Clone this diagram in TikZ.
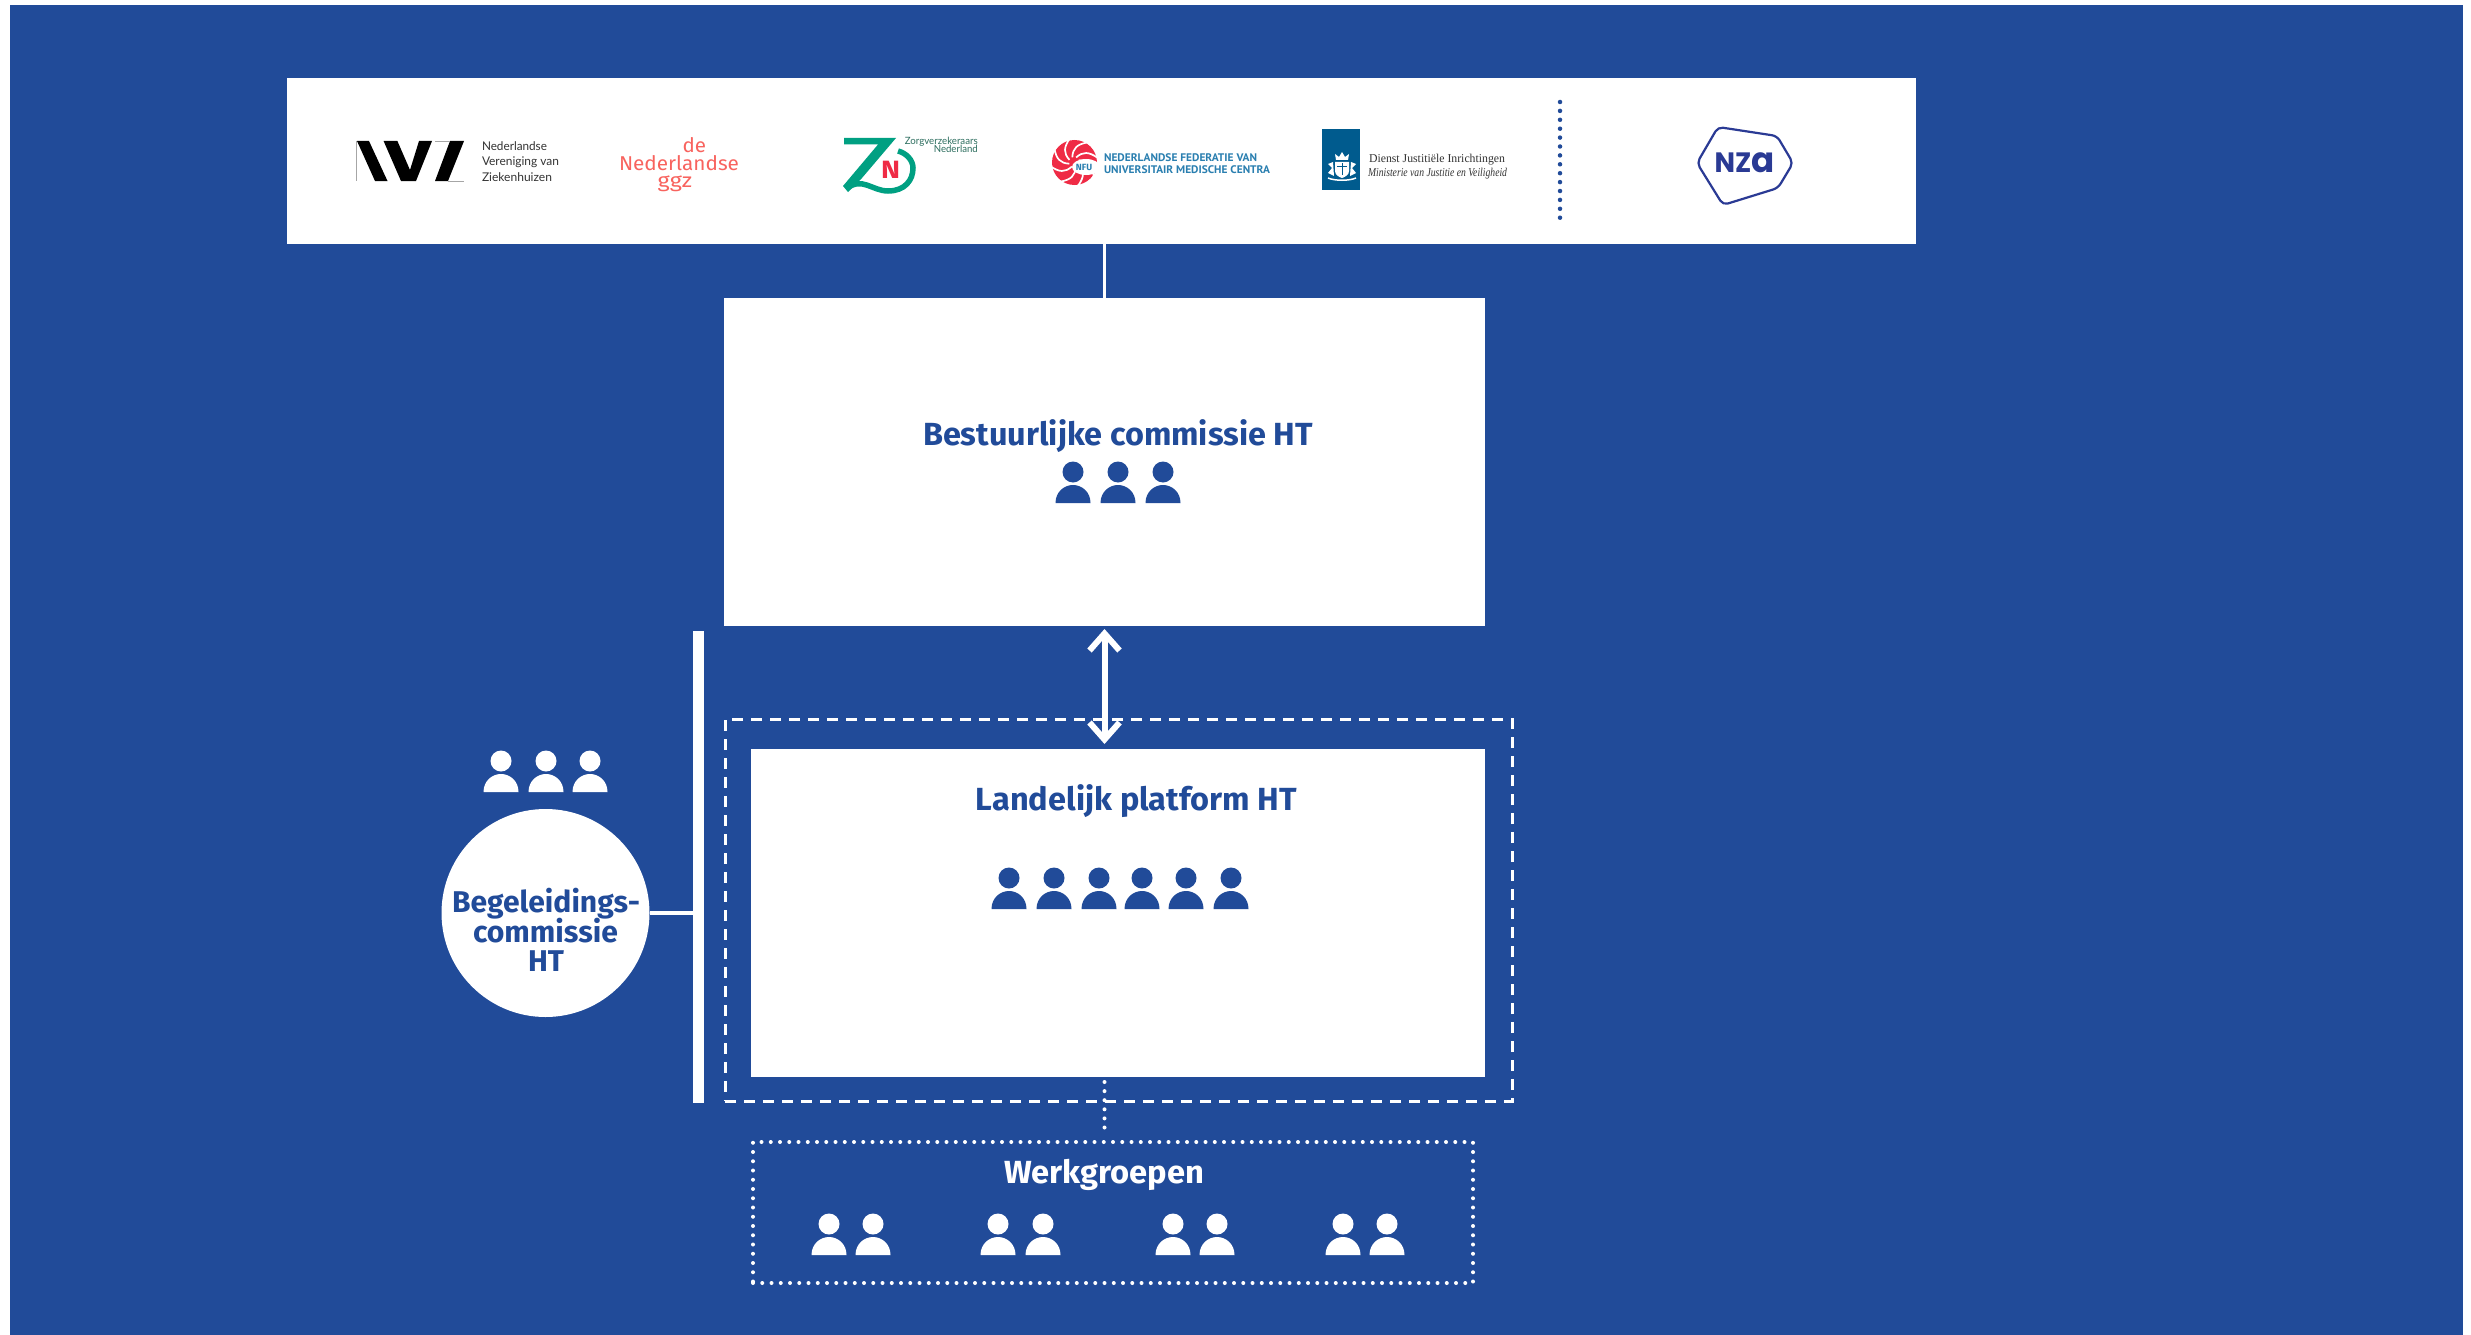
\documentclass[tikz,border=0pt]{standalone}
\usepackage{fontspec}
\usepackage{graphicx}
\usetikzlibrary{arrows.meta}
\setmainfont{Fira Sans}
\newfontfamily\latofont{Lato}
\newfontfamily\ptfont{PT Sans}
\newfontfamily\serfont{Liberation Serif}
\newfontfamily\popfont{Poppins}
\newcommand\fitw[2]{\resizebox{#1pt}{\height}{#2}}
\newcommand\fsz[1]{\fontsize{#1}{#1}\selectfont}
\definecolor{bgblue}{HTML}{214B99}
\definecolor{coral}{HTML}{F8635E}
\definecolor{zngreen}{HTML}{00A082}
\definecolor{zntext}{HTML}{2D6E5F}
\definecolor{znred}{HTML}{EF2B45}
\definecolor{nfublue}{HTML}{2A7FB0}
\definecolor{djiblue}{HTML}{005B8E}
\definecolor{nzablue}{HTML}{2A3A94}
\definecolor{logogrey}{HTML}{333333}
\tikzset{
  whitebox/.style={fill=white,draw=none,inner sep=0pt,outer sep=0pt},
  framebox/.style={fill=none,draw=white,inner sep=0pt,outer sep=0pt},
  dashframe/.style={framebox,line width=3pt,dash pattern=on 11pt off 8pt},
  dotframe/.style={framebox,line width=4pt,line cap=round,dash pattern=on 0pt off 9.25pt},
  dotline/.style={white,line width=4pt,line cap=round,dash pattern=on 0pt off 9.1pt},
  title/.style={anchor=base,inner sep=0pt,font=\fsz{32}\bfseries,text=bgblue},
  begline/.style={anchor=base,inner sep=0pt,font=\fsz{30}\bfseries,text=bgblue},
  logotext/.style={anchor=base west,inner sep=0pt,outer sep=0pt},
  person/.pic={\path[pic actions] (0,-31) circle (10.5)
     (-17.5,0) .. controls (-17.5,-11) and (-9,-18) .. (0,-18)
     .. controls (9,-18) and (17.5,-11) .. (17.5,0) -- cycle;}
}
\begin{document}
\begin{tikzpicture}[x=1pt,y=-1pt]
\useasboundingbox (0,0) rectangle (2471,1335);
\fill[white] (0,0) rectangle (2471,1335);
\fill[bgblue] (10,5) rectangle (2463,1335);

% main boxes
\node[whitebox,minimum width=1629pt,minimum height=166pt] (logos) at (1101.5,161) {};
\node[whitebox,minimum width=761pt,minimum height=328pt] (best) at (1104.5,462) {};
\node[whitebox,minimum width=734pt,minimum height=328pt] (land) at (1118,913) {};
\node[dashframe,minimum width=787pt,minimum height=382pt] (platform) at (1118.5,910) {};
\node[whitebox,minimum width=11pt,minimum height=472pt] (bar) at (698.5,867) {};
\node[whitebox,circle,minimum size=208pt] (circ) at (545.5,913) {};
\node[dotframe,minimum width=720pt,minimum height=141pt] (werk) at (1113,1212.5) {};

% connectors
\draw[white,line width=2.5pt] (best.north |- logos.south) -- (best.north);
\draw[white,line width=6pt,{Straight Barb[length=17pt,width=30pt]}-{Straight Barb[length=17pt,width=30pt]},shorten <=3pt,shorten >=5pt]
  (best.south) -- (best.south |- land.north);
\draw[white,line width=4pt] (circ.east) -- (circ.east -| bar.west);
\draw[dotline,shorten <=5pt] (best.south |- land.south) -- ([yshift=13pt]best.south |- werk.north);

% titles
\node[title] (tbest) at (1118,445) {\fitw{390}{Bestuurlijke commissie HT}};
\node[title] (tland) at (1136.5,810) {\fitw{321}{Landelijk platform HT}};
\node[title,text=white] (twerk) at (1104,1183) {\fitw{200}{Werkgroepen}};
\node[begline] (tbeg1) at (546,912) {\fitw{188}{Begeleidings-}};
\node[begline] (tbeg2) at (545.5,942) {\fitw{145}{commissie}};
\node[begline] (tbeg3) at (546,971.5) {\fitw{36}{HT}};

% people
\foreach \px in {1073,1118,1163} \pic[fill=bgblue] at (\px,503) {person};
\foreach \px in {1009,1054,1099,1142,1186,1231} \pic[fill=bgblue] at (\px,909) {person};
\foreach \px in {501,546,590} \pic[fill=white] at (\px,792) {person};
\foreach \px in {829,873,998,1043,1173,1217,1343,1387} \pic[fill=white] at (\px,1255) {person};

% NVZ logo
\fill[black] (357,141) -- (369,141) -- (387.5,181) -- (375,181) -- cycle;
\fill[black] (383.6,141) -- (397.4,141) -- (410,170) -- (419,141) -- (432,141) -- (416,181) -- (401,181) -- cycle;
\fill[black] (450,141) -- (464,141) -- (448,181) -- (435,181) -- cycle;
\draw[gray!70,line width=.7pt] (356,141) -- (356,181) (435,141) -- (450,141) (448,181) -- (464,181);
\node[logotext,text=logogrey,font=\latofont\fsz{12}] (nvz1) at (482,150) {\fitw{65}{Nederlandse}};
\node[logotext,text=logogrey,font=\latofont\fsz{12}] (nvz2) at (482,165.5) {\fitw{77}{Vereniging van}};
\node[logotext,text=logogrey,font=\latofont\fsz{12}] (nvz3) at (482,181) {\fitw{70}{Ziekenhuizen}};

% de Nederlandse ggz logo
\node[logotext,text=coral,font=\fsz{20}] (ggz1) at (682.5,153) {\fitw{23.5}{de}};
\node[logotext,text=coral,font=\fsz{20}] (ggz2) at (619,170.5) {\fitw{120}{Nederlandse}};
\node[logotext,text=coral,font=\fsz{20}] (ggz3) at (657.6,187) {\fitw{34.4}{ggz}};

% Zn logo
\fill[zngreen] (844,138) -- (896,138) -- (862,178) -- (848,192) -- (843,186) -- (878,144.5) -- (844,144.5) -- cycle;
\draw[zngreen,line width=5.5pt] (846,189)
  .. controls (862,176) and (872,191) .. (888,191)
  .. controls (905,191) and (913,180) .. (913,168)
  .. controls (913,160) and (906,153) .. (898,151);
\node[inner sep=0pt,text=znred,font=\fsz{25}\bfseries] (znn) at (890.5,170) {\fitw{19}{N}};
\node[anchor=base east,inner sep=0pt,text=zntext,font=\latofont\fsz{10}] (zn1) at (978,144.5) {\fitw{73}{Zorgverzekeraars}};
\node[anchor=base east,inner sep=0pt,text=zntext,font=\latofont\fsz{10}] (zn2) at (978,153) {\fitw{44}{Nederland}};

% NFU logo
\fill[znred] (1074.5,162.5) circle (22.5);
\begin{scope}[shift={(1074,162)}]
  \foreach \a in {-20,25,70,115,160,205,250,295}
    \draw[white,line width=1.7pt] (\a:5) .. controls (\a+15:14) and (\a+30:18) .. (\a+55:24);
\end{scope}
\fill[white] (1086,167) ellipse (14 and 8);
\node[inner sep=0pt,text=nfublue,font=\fsz{9}\bfseries] (nfum) at (1084,167) {NFU};
\node[logotext,text=nfublue,font=\ptfont\bfseries\fsz{11}] (nfu1) at (1104,161) {\fitw{153}{NEDERLANDSE FEDERATIE VAN}};
\node[logotext,text=nfublue,font=\ptfont\bfseries\fsz{11}] (nfu2) at (1104,174) {\fitw{166}{UNIVERSITAIR MEDISCHE CENTRA}};

% DJI logo
\fill[djiblue] (1322,129) rectangle (1360,190);
\fill[white] (1336,160) -- (1335,154) -- (1339,157) -- (1342,152) -- (1345,157) -- (1349,154) -- (1348,160) -- cycle;
\fill[white] (1335,162) -- (1349,162) -- (1349,171) .. controls (1349,175) and (1345,177) .. (1342,178) .. controls (1339,177) and (1335,175) .. (1335,171) -- cycle;
\fill[white] (1333,162) -- (1328,164) -- (1332,168) -- (1328,173) -- (1334,176) -- cycle;
\fill[white] (1351,162) -- (1356,164) -- (1352,168) -- (1356,173) -- (1350,176) -- cycle;
\draw[white,line width=1.5pt] (1328,178) .. controls (1335,181) and (1349,181) .. (1356,178);
\draw[djiblue,line width=.7pt] (1337,166) -- (1347,166) (1342,163) -- (1342,175);
\node[logotext,text=logogrey,font=\serfont\fsz{12}] (dji1) at (1369,163) {\fitw{136}{Dienst Justitiële Inrichtingen}};
\node[logotext,text=logogrey,font=\serfont\itshape\fsz{12}] (dji2) at (1368,176.5) {\fitw{139}{Ministerie van Justitie en Veiligheid}};

% dotted divider
\coordinate (divtop) at (1560,102);
\coordinate (divbot) at (1560,226);
\draw[bgblue,line width=4.5pt,line cap=round,dash pattern=on 0pt off 8.9pt] (divtop) -- (divbot);

% NZa logo
\draw[nzablue,line width=2.2pt,rounded corners=5pt] (1718,127) -- (1777,136) -- (1793,163) -- (1778,188) -- (1723,205) -- (1697,163) -- cycle;
\node[anchor=base,inner sep=0pt,text=nzablue,font=\popfont\bfseries\fsz{28}] (nza) at (1744.5,173) {\fitw{60}{NZ\scalebox{1.25}{a}}};
\end{tikzpicture}
\end{document}
